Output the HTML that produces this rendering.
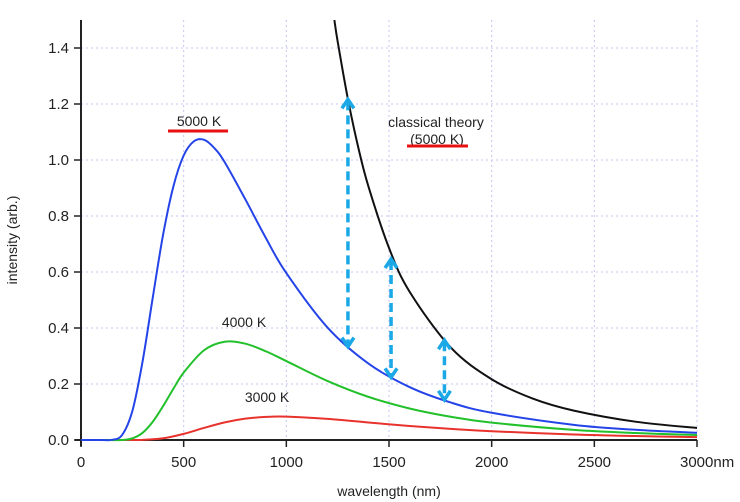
<!DOCTYPE html>
<html><head><meta charset="utf-8"><style>
html,body{margin:0;padding:0;background:#fff;}
svg{display:block;font-family:"Liberation Sans",sans-serif;}
</style></head><body>
<svg id="chart" width="740" height="502"></svg>
<script>
const lam = [0,0.1,0.15,0.2,0.25,0.3,0.35,0.4,0.45,0.5,0.55,0.6,0.65,0.7,0.8,0.9,1.0,1.2,1.4,1.6,1.8,2.0,2.4,2.7,3.0];
const i5000 = [0,0,0.0006,0.0177,0.103,0.281,0.511,0.734,0.906,1.016,1.067,1.072,1.042,0.992,0.860,0.722,0.596,0.402,0.273,0.189,0.134,0.0972,0.0542,0.0366,0.0256];
const lam4 = [0,0.1,0.2,0.25,0.3,0.35,0.4,0.45,0.5,0.6,0.7,0.8,0.9,1.0,1.2,1.4,1.6,1.8,2.0,2.4,2.7,3.0];
const i4000 = [0,0,0,0.0058,0.0256,0.0656,0.1214,0.183,0.2406,0.321,0.351,0.344,0.317,0.282,0.211,0.154,0.1126,0.083,0.062,0.0361,0.025,0.0178];
const lam3 = [0,0.1,0.2,0.3,0.4,0.5,0.6,0.7,0.8,0.9,1.0,1.2,1.4,1.6,1.8,2.0,2.4,2.7,3.0];
const i3000 = [0,0,0,0.0005,0.0061,0.0218,0.0434,0.063,0.0762,0.0825,0.0833,0.0753,0.0625,0.0501,0.0396,0.0313,0.0197,0.0142,0.0104];
const lamC = [1.234,1.25,1.3,1.35,1.4,1.5,1.6,1.8,2.0,2.2,2.4,2.7,3.0];
const iClassical = [1.5,1.423,1.217,1.046,0.905,0.686,0.530,0.331,0.217,0.148,0.105,0.0654,0.0429];
const arrowX = [1300,1510,1770];
const arrowLow = [0.33,0.22,0.14];
const arrowHigh = [1.22,0.65,0.36];
const xTicks = [0,500,1000,1500,2000,2500,3000];
const xTickLabels = ["0","500","1000","1500","2000","2500","3000nm"];
const yTicks = [0,0.2,0.4,0.6,0.8,1.0,1.2,1.4];
const yTickLabels = ["0.0","0.2","0.4","0.6","0.8","1.0","1.2","1.4"];

const X0=81, X1=697, Y0=440, YTOP=20;
const sx = nm => X0 + nm/3000*(X1-X0);
const sy = v => Y0 - v*280;
const NS="http://www.w3.org/2000/svg";
const svg=document.getElementById('chart');
function mk(tag, attrs, parent){const e=document.createElementNS(NS,tag);for(const k in attrs)e.setAttribute(k,attrs[k]);(parent||svg).appendChild(e);return e;}

const clip=mk('clipPath',{id:'plotclip'});
mk('rect',{x:X0,y:YTOP,width:X1-X0+2,height:Y0-YTOP+2},clip);

const grid=mk('g',{});


xTicks.forEach(t=>{ if(t>0) mk('line',{x1:sx(t),x2:sx(t),y1:YTOP,y2:Y0,stroke:'#c4c4f2','stroke-width':1,'stroke-dasharray':'2,3'},grid);});
yTicks.forEach(t=>{ if(t>0) mk('line',{x1:X0,x2:X1,y1:sy(t),y2:sy(t),stroke:'#c4c4f2','stroke-width':1,'stroke-dasharray':'2,3'},grid);});

const ya=mk('line',{x1:X0,x2:X0,y1:YTOP,y2:Y0+6,stroke:'#222','stroke-width':2});


const xa=mk('line',{x1:X0-6,x2:X1,y1:Y0,y2:Y0,stroke:'#222','stroke-width':2});


xTicks.forEach((t,i)=>{
  mk('line',{x1:sx(t),x2:sx(t),y1:Y0,y2:Y0+7,stroke:'#222','stroke-width':1.5});
  const tx=mk('text',{x:sx(t),y:Y0+27,'text-anchor':i==6?'start':'middle','font-size':15,fill:'#222'});
  tx.textContent=xTickLabels[i];
  if(i==6) tx.setAttribute('x',sx(t)-17);
  
  
});
yTicks.forEach((t,i)=>{
  mk('line',{x1:X0-7,x2:X0,y1:sy(t),y2:sy(t),stroke:'#222','stroke-width':1.5});
  const tx=mk('text',{x:X0-12,y:sy(t)+5,'text-anchor':'end','font-size':15,fill:'#222'});
  tx.textContent=yTickLabels[i];
  
  
});

function pathFor(xs,ys){
  const p=xs.map((l,i)=>[sx(l*1000),sy(ys[i])]);
  let d='M'+p[0][0]+','+p[0][1];
  for(let i=0;i<p.length-1;i++){
    const a=p[Math.max(0,i-1)],b=p[i],c=p[i+1],e=p[Math.min(p.length-1,i+2)];
    const c1=[b[0]+(c[0]-a[0])/6,b[1]+(c[1]-a[1])/6];
    const c2=[c[0]-(e[0]-b[0])/6,c[1]-(e[1]-b[1])/6];
    d+=` C${c1[0]},${c1[1]} ${c2[0]},${c2[1]} ${c[0]},${c[1]}`;
  }
  return d;
}
const series=[[lam3,i3000,'#e8322c','curve-3000k'],[lam4,i4000,'#22c02a','curve-4000k'],[lam,i5000,'#2544e8','curve-5000k'],[lamC,iClassical,'#111','curve-classical']];
series.forEach(s=>{
  const p=mk('path',{d:pathFor(s[0],s[1]),fill:'none',stroke:s[2],'stroke-width':2,'clip-path':'url(#plotclip)'});
  
  
});

arrowX.forEach((a,i)=>{
  const g=mk('g',{stroke:'#1aa8e6','stroke-width':3.5,fill:'none'});
  
  
  const x=sx(a),y1=sy(arrowHigh[i]),y2=sy(arrowLow[i]);
  mk('line',{x1:x,x2:x,y1:y1+3,y2:y2-3,'stroke-dasharray':'9,5'},g);
  mk('polyline',{points:`${x-6},${y1+10} ${x},${y1+1} ${x+6},${y1+10}`},g);
  mk('polyline',{points:`${x-6},${y2-10} ${x},${y2-1} ${x+6},${y2-10}`},g);
});

function label(txt,x,y,name,anchor){const t=mk('text',{x:x,y:y,'font-size':14,fill:'#222','text-anchor':anchor||'middle'});t.textContent=txt;return t;}
label('5000 K',199,126,'label-5000k');
const u1=mk('line',{x1:168,x2:228,y1:131,y2:131,stroke:'#e81010','stroke-width':3});


label('4000 K',244,327,'label-4000k');
label('3000 K',267,402,'label-3000k');
label('classical theory',436,127,'label-classical-theory');
label('(5000 K)',437,144,'label-classical-5000k');
const u2=mk('line',{x1:407,x2:468,y1:146,y2:146,stroke:'#e81010','stroke-width':3});


const yt=mk('text',{x:0,y:0,'font-size':14,fill:'#222','text-anchor':'middle',transform:'translate(17,240) rotate(-90)'});
yt.textContent='intensity (arb.)';


label('wavelength (nm)',389,496,'x-axis-title');
</script>
</body></html>
